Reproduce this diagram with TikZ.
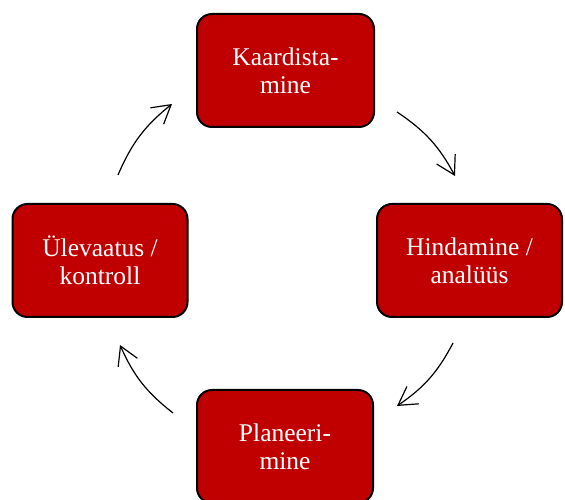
\documentclass[tikz,border=0pt]{standalone}
\usepackage{fontspec}
\setmainfont{Liberation Serif}
\usetikzlibrary{arrows.meta}
\definecolor{boxred}{RGB}{192,0,0}
\begin{document}
\begin{tikzpicture}[x=1pt,y=1pt,
  stage/.style={draw=black,line width=2pt,fill=boxred,rounded corners=15pt,
    text=white,align=center,inner sep=0pt,
    font=\fontsize{25.5}{28}\selectfont},
  cycle/.style={line width=1.2pt,-{Straight Barb[length=18pt,width=21pt,line width=1.2pt]},bend left=14}]
\useasboundingbox (0,0) rectangle (565,500);
\clip (0,0) rectangle (565,500);

% the four stages of the cycle
\node[stage,minimum width=177pt,minimum height=113pt] (kaard) at (285.5,429.5) {Kaardista-\\mine};
\node[stage,minimum width=185pt,minimum height=113pt] (hind) at (469.5,239.5) {Hindamine /\\analüüs};
\node[stage,minimum width=176pt,minimum height=113pt] (plan) at (285,53.5) {Planeeri-\\mine};
\node[stage,minimum width=175pt,minimum height=113pt] (ulev) at (100,239.5) {Ülevaatus /\\kontroll};

% ends of the arcs between the stages
\coordinate (trA) at (397,388);
\coordinate (trB) at (455,324);
\coordinate (brA) at (453,157);
\coordinate (brB) at (397,94);
\coordinate (blA) at (173,87);
\coordinate (blB) at (120,155);
\coordinate (tlA) at (118,325);
\coordinate (tlB) at (172,396);

\draw[cycle] (trA) to (trB);
\draw[cycle] (brA) to (brB);
\draw[cycle] (blA) to (blB);
\draw[cycle] (tlA) to (tlB);
\end{tikzpicture}
\end{document}
